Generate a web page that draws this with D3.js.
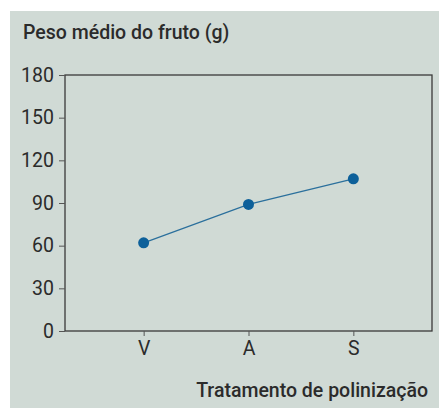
<!DOCTYPE html>
<html>
<head>
<meta charset="utf-8">
<script src="https://cdn.jsdelivr.net/npm/d3@7"></script>
<style>
  html, body { margin: 0; padding: 0; background: #fff; }
  svg text { font-family: Roboto, "Noto Sans", sans-serif; fill: #2b2b2b; }
</style>
</head>
<body>
<svg id="chart" width="439" height="408"></svg>
<script>
const categories = ["V", "A", "S"];
const pesoMedio = [62, 89, 107];
const yTicks = [0, 30, 60, 90, 120, 150, 180];

const svg = d3.select("svg#chart");
const W = 439, H = 408;
const margin = { top: 75, right: 7, bottom: 77, left: 65 };

// panel background
svg.append("rect")
  .attr("x", 10).attr("y", 11)
  .attr("width", W - 10).attr("height", H - 11)
  .attr("fill", "#d0dad5");

const x = d3.scalePoint()
  .domain(categories)
  .range([margin.left, W - margin.right])
  .padding(0.75);

const y = d3.scaleLinear()
  .domain([0, 180])
  .range([H - margin.bottom, margin.top]);

// frame
svg.append("rect")
  .attr("x", margin.left).attr("y", margin.top)
  .attr("width", W - margin.right - margin.left)
  .attr("height", H - margin.bottom - margin.top)
  .attr("fill", "none")
  .attr("stroke", "#3a3a3a")
  .attr("stroke-width", 1.3);

// y axis
const yAxis = svg.append("g")
  .attr("transform", `translate(${margin.left},0)`)
  .call(d3.axisLeft(y).tickValues(yTicks).tickSize(6).tickPadding(5));
yAxis.select(".domain").remove();
yAxis.selectAll(".tick line").attr("stroke", "#555");
yAxis.selectAll(".tick text").style("font-size", "19.5px").attr("fill", "#2b2b2b");

// x axis
const xAxis = svg.append("g")
  .attr("transform", `translate(0,${H - margin.bottom})`)
  .call(d3.axisBottom(x).tickSize(5).tickPadding(5));
xAxis.select(".domain").remove();
xAxis.selectAll(".tick line").attr("stroke", "#555");
xAxis.selectAll(".tick text").style("font-size", "19.5px").attr("fill", "#2b2b2b");

// line
const line = d3.line()
  .x((d, i) => x(categories[i]))
  .y(d => y(d));

svg.append("path")
  .datum(pesoMedio)
  .attr("d", line)
  .attr("fill", "none")
  .attr("stroke", "#2a6f9c")
  .attr("stroke-width", 1.2);

svg.selectAll("circle.pt")
  .data(pesoMedio)
  .enter()
  .append("circle")
  .attr("class", "pt")
  .attr("cx", (d, i) => x(categories[i]))
  .attr("cy", d => y(d))
  .attr("r", 5.5)
  .attr("fill", "#0d609a");

// titles
svg.append("text")
  .attr("x", 23).attr("y", 39)
  .style("font-size", "19.5px")
  .style("font-weight", 500)
  .text("Peso médio do fruto (g)");

svg.append("text")
  .attr("x", 428).attr("y", 397)
  .attr("text-anchor", "end")
  .style("font-size", "19.5px")
  .style("font-weight", 500)
  .text("Tratamento de polinização");
</script>
</body>
</html>
